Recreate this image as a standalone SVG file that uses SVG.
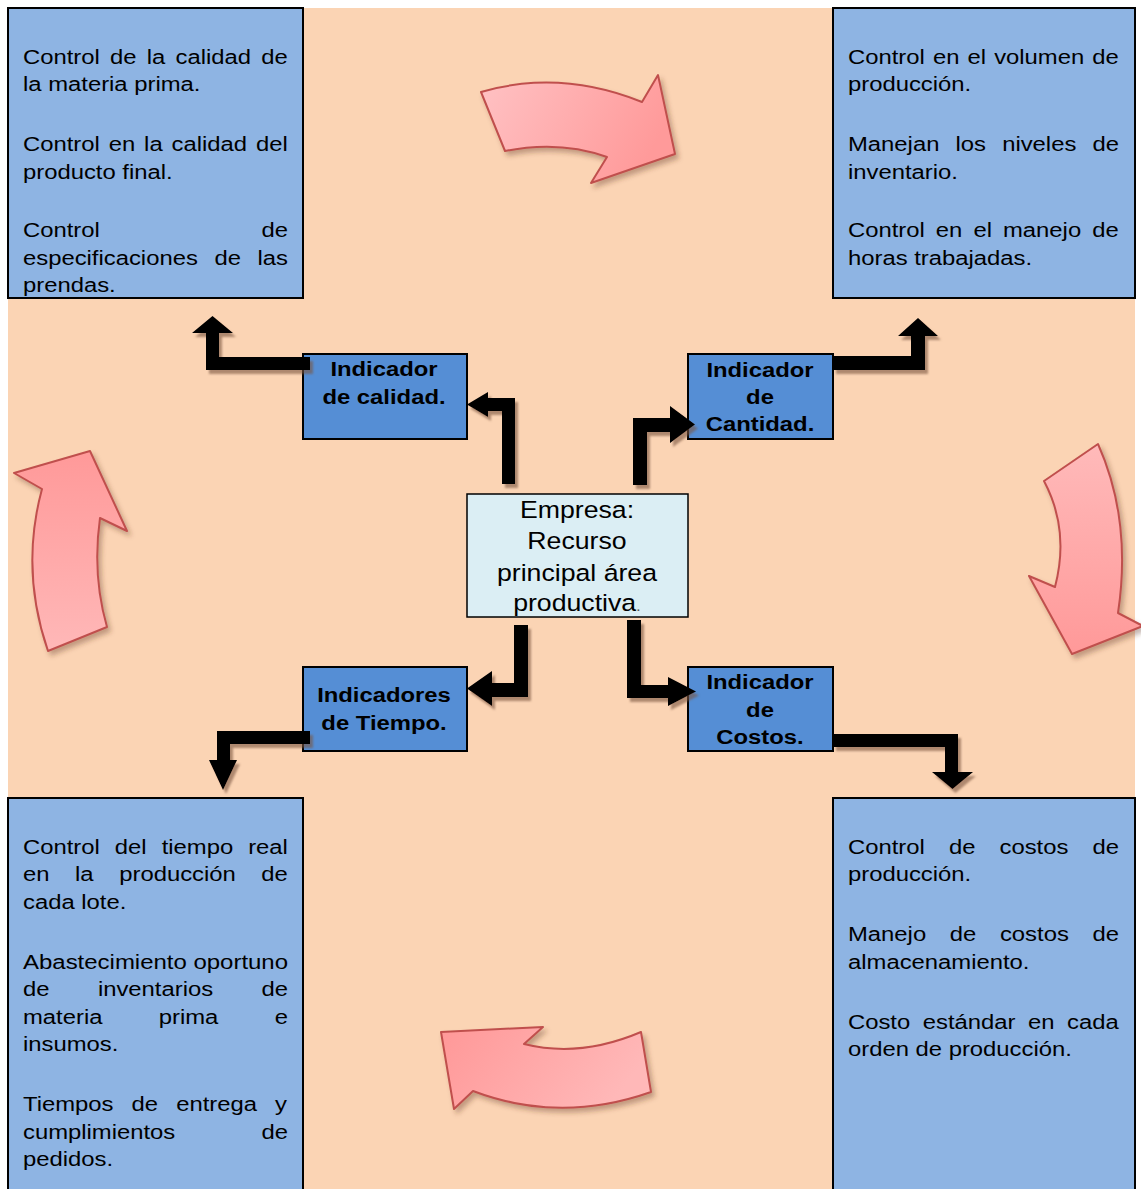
<svg xmlns="http://www.w3.org/2000/svg" width="1141" height="1189" viewBox="0 0 1141 1189">
  <style>
    .panel { fill: #8EB4E3; stroke: #000; stroke-width: 2; }
    .ind { fill: #558ED5; stroke: #000; stroke-width: 2; }
    .core { fill: #DBEEF4; stroke: #000; stroke-width: 1.5; }
    .body { font-family: "Liberation Sans", Arial, sans-serif; font-size: 21px; fill: #000; }
    .head { font-family: "Liberation Sans", Arial, sans-serif; font-size: 21px; font-weight: bold; fill: #000; text-anchor: middle; }
    .mid { font-family: "Liberation Sans", Arial, sans-serif; font-size: 23.5px; fill: #000; text-anchor: middle; }
    .end { text-anchor: end; }
    .link { fill: #000; filter: url(#linkShadow); }
    .cycle { stroke: #C0504D; stroke-width: 2; stroke-linejoin: round; filter: url(#cycleShadow); }
  </style>
  <defs>
    <filter id="linkShadow" x="-20%" y="-20%" width="150%" height="150%">
      <feGaussianBlur in="SourceAlpha" stdDeviation="0.8" result="b"/>
      <feOffset in="b" dx="3" dy="4" result="o"/>
      <feFlood flood-color="#7a5540" flood-opacity="0.6"/>
      <feComposite in2="o" operator="in" result="s"/>
      <feMerge><feMergeNode in="s"/><feMergeNode in="SourceGraphic"/></feMerge>
    </filter>
    <filter id="cycleShadow" x="-20%" y="-20%" width="150%" height="150%">
      <feGaussianBlur in="SourceAlpha" stdDeviation="2.5" result="b"/>
      <feOffset in="b" dx="3" dy="4" result="o"/>
      <feFlood flood-color="#5a3020" flood-opacity="0.35"/>
      <feComposite in2="o" operator="in" result="s"/>
      <feMerge><feMergeNode in="s"/><feMergeNode in="SourceGraphic"/></feMerge>
    </filter>
    <linearGradient id="gTop" x1="0" y1="0" x2="1" y2="0.3">
      <stop offset="0" stop-color="#FFC2C4"/><stop offset="1" stop-color="#FF9A9A"/>
    </linearGradient>
    <linearGradient id="gRight" x1="0" y1="0" x2="0" y2="1">
      <stop offset="0" stop-color="#FFBABA"/><stop offset="1" stop-color="#FF9999"/>
    </linearGradient>
    <linearGradient id="gBottom" x1="1" y1="0.3" x2="0" y2="0">
      <stop offset="0" stop-color="#FFB8B8"/><stop offset="1" stop-color="#FF9898"/>
    </linearGradient>
    <linearGradient id="gLeft" x1="0" y1="1" x2="0" y2="0">
      <stop offset="0" stop-color="#FFB8B8"/><stop offset="1" stop-color="#FF9999"/>
    </linearGradient>
  </defs>

  <!-- backdrop -->
  <rect x="0" y="0" width="1141" height="1189" fill="#FFFFFF"/>
  <rect x="8" y="8" width="1127" height="1185" fill="#FBD4B4"/>

  <!-- corner panels -->
  <g id="panel-calidad">
    <rect class="panel" x="8" y="8" width="295" height="290"/>
    <g class="body" transform="translate(23 0) scale(1.135 1)">
      <text x="0" y="64" word-spacing="3.2">Control de la calidad de</text>
      <text x="0" y="91.5">la materia prima.</text>
      <text x="0" y="151.5" word-spacing="2">Control en la calidad del</text>
      <text x="0" y="179">producto final.</text>
      <text x="0" y="237.5">Control</text>
      <text x="233.5" y="237.5" class="end">de</text>
      <text x="0" y="265" word-spacing="8.8">especificaciones de las</text>
      <text x="0" y="292.5">prendas.</text>
    </g>
  </g>

  <g id="panel-cantidad">
    <rect class="panel" x="833" y="8" width="302" height="290"/>
    <g class="body" transform="translate(848 0) scale(1.135 1)">
      <text x="0" y="64" word-spacing="1.3">Control en el volumen de</text>
      <text x="0" y="91.5">producción.</text>
      <text x="0" y="151.5" word-spacing="8.4">Manejan los niveles de</text>
      <text x="0" y="179">inventario.</text>
      <text x="0" y="237.5" word-spacing="3.9">Control en el manejo de</text>
      <text x="0" y="265">horas trabajadas.</text>
    </g>
  </g>

  <g id="panel-tiempo">
    <rect class="panel" x="8" y="798" width="295" height="400"/>
    <g class="body" transform="translate(23 0) scale(1.135 1)">
      <text x="0" y="854" word-spacing="7.4">Control del tiempo real</text>
      <text x="0" y="881" word-spacing="16.7">en la producción de</text>
      <text x="0" y="909">cada lote.</text>
      <text x="0" y="969" textLength="233.5" lengthAdjust="spacingAndGlyphs">Abastecimiento oportuno</text>
      <text x="0" y="996" word-spacing="36.8">de inventarios de</text>
      <text x="0" y="1024" word-spacing="43.8">materia prima e</text>
      <text x="0" y="1051">insumos.</text>
      <text x="0" y="1111" word-spacing="10.1">Tiempos de entrega y</text>
      <text x="0" y="1139">cumplimientos</text>
      <text x="233.5" y="1139" class="end">de</text>
      <text x="0" y="1166">pedidos.</text>
    </g>
  </g>

  <g id="panel-costos">
    <rect class="panel" x="833" y="798" width="302" height="400"/>
    <g class="body" transform="translate(848 0) scale(1.135 1)">
      <text x="0" y="854" word-spacing="15.4">Control de costos de</text>
      <text x="0" y="881">producción.</text>
      <text x="0" y="941" word-spacing="15">Manejo de costos de</text>
      <text x="0" y="969">almacenamiento.</text>
      <text x="0" y="1029" word-spacing="5.2">Costo estándar en cada</text>
      <text x="0" y="1056">orden de producción.</text>
    </g>
  </g>

  <!-- central node -->
  <g id="empresa">
    <rect class="core" x="467" y="494" width="221" height="123"/>
    <g class="mid" transform="translate(577 0) scale(1.135 1)">
      <text x="0" y="518">Empresa:</text>
      <text x="0" y="549.5">Recurso</text>
      <text x="0" y="581">principal área</text>
      <text x="0" y="611">productiva<tspan font-size="15" fill="#555">.</tspan></text>
    </g>
  </g>

  <!-- indicator nodes -->
  <g id="ind-calidad">
    <rect class="ind" x="303" y="354" width="164" height="85"/>
    <g class="head" transform="translate(384 0) scale(1.135 1)">
      <text x="0" y="376">Indicador</text>
      <text x="0" y="404">de calidad.</text>
    </g>
  </g>
  <g id="ind-cantidad">
    <rect class="ind" x="688" y="354" width="145" height="85"/>
    <g class="head" transform="translate(760 0) scale(1.135 1)">
      <text x="0" y="377">Indicador</text>
      <text x="0" y="404">de</text>
      <text x="0" y="431">Cantidad.</text>
    </g>
  </g>
  <g id="ind-tiempo">
    <rect class="ind" x="303" y="667" width="164" height="84"/>
    <g class="head" transform="translate(384 0) scale(1.135 1)">
      <text x="0" y="702">Indicadores</text>
      <text x="0" y="730">de Tiempo.</text>
    </g>
  </g>
  <g id="ind-costos">
    <rect class="ind" x="688" y="667" width="145" height="84"/>
    <g class="head" transform="translate(760 0) scale(1.135 1)">
      <text x="0" y="689">Indicador</text>
      <text x="0" y="717">de</text>
      <text x="0" y="744">Costos.</text>
    </g>
  </g>

  <!-- elbow connectors -->
  <g id="connectors">
    <path class="link" d="M515,484 L515,398 L488,398 L488,392 L467,404.5 L488,417 L488,411 L502,411 L502,484 Z"/>
    <path class="link" d="M310,357 L219,357 L219,333 L233,333 L212.5,316 L192,333 L206,333 L206,370 L310,370 Z"/>
    <path class="link" d="M633,485 L633,418 L670,418 L670,406 L695,424.5 L670,443 L670,432 L647,432 L647,485 Z"/>
    <path class="link" d="M833,356 L911,356 L911,336 L898,336 L918,318 L938,336 L925,336 L925,370 L833,370 Z"/>
    <path class="link" d="M514,625 L528,625 L528,697 L492,697 L492,706 L467,688.5 L492,671 L492,683 L514,683 Z"/>
    <path class="link" d="M310,731 L217,731 L217,760 L209,760 L223,790 L237,760 L230,760 L230,744 L310,744 Z"/>
    <path class="link" d="M627,620 L641,620 L641,685 L668,685 L668,677 L696,691.5 L668,706 L668,698 L627,698 Z"/>
    <path class="link" d="M833,734 L958,734 L958,772 L973,772 L952.5,789 L932,772 L945,772 L945,747 L833,747 Z"/>
  </g>

  <!-- curved cycle arrows -->
  <g id="cycle">
    <path class="cycle" fill="url(#gTop)" d="M481,92 Q560,69 642,102 L658,75 L675,154 L591,183 L607,157 Q560,140 505,151 Z"/>
    <path class="cycle" fill="url(#gRight)" d="M1044,481 L1098,444 Q1132,520 1118,613 L1143,626 L1072,654 L1029,576 L1055,587 Q1070,530 1044,481 Z"/>
    <path class="cycle" fill="url(#gBottom)" d="M641,1032 L651,1092 Q560,1124 473,1091 L454,1109 L441,1032 L543,1027 L524,1044 Q580,1058 641,1032 Z"/>
    <path class="cycle" fill="url(#gLeft)" d="M48,651 L107,627 Q92,575 100,518 L127,531 L90,451 L14,473 L42,489 Q20,570 48,651 Z"/>
  </g>
</svg>
